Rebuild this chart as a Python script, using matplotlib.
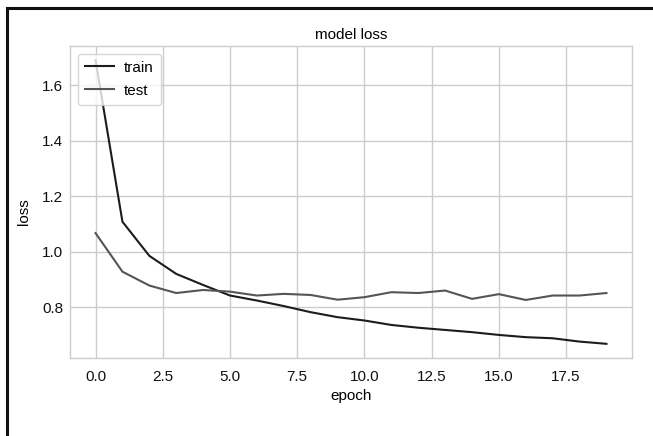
import matplotlib
matplotlib.use('Agg')
import matplotlib.pyplot as plt
from matplotlib.patches import Rectangle

# loss history
epochs = list(range(20))
train_loss = [1.69, 1.108, 0.985, 0.920, 0.880, 0.842, 0.824, 0.804, 0.782, 0.764,
              0.752, 0.736, 0.726, 0.718, 0.710, 0.700, 0.692, 0.688, 0.676, 0.668]
test_loss = [1.067, 0.928, 0.878, 0.851, 0.862, 0.856, 0.842, 0.848, 0.844, 0.827,
             0.836, 0.854, 0.851, 0.860, 0.830, 0.847, 0.826, 0.842, 0.842, 0.851]
legend_labels = ['train', 'test']

plt.rcParams['font.family'] = ['Liberation Sans', 'DejaVu Sans']

fig = plt.figure(figsize=(6.53, 4.36), dpi=100)
ax = fig.add_axes([70 / 653, 1 - 358 / 436, (632 - 70) / 653, (358 - 46) / 436])

ax.plot(epochs, train_loss, color='#1c1c1c', linewidth=1.5)
ax.plot(epochs, test_loss, color='#555555', linewidth=1.5)

ax.set_title('model loss', fontsize=11, pad=5)
ax.set_ylabel('loss', fontsize=11)
ax.yaxis.set_label_coords(-0.069, 0.47)
ax.set_xlabel('epoch', fontsize=11, labelpad=4)

ax.grid(True, color='#cccccc', linewidth=1.0)
ax.set_axisbelow(True)
for spine in ax.spines.values():
    spine.set_color('#cccccc')
    spine.set_linewidth(1.0)
ax.tick_params(length=0, labelsize=11, colors='#111111')
ax.tick_params(axis='x', pad=8.5)
ax.tick_params(axis='y', pad=5)
ax.set_yticks([0.8, 1.0, 1.2, 1.4, 1.6])
ax.set_xticks([0, 2.5, 5, 7.5, 10, 12.5, 15, 17.5])

ax.legend(legend_labels, loc='upper left', fontsize=11, frameon=True,
          framealpha=0.8, edgecolor='#cccccc', handlelength=1.9,
          handletextpad=0.7, borderpad=0.45, labelspacing=0.6)

# scanned frame around the figure (left and top edges visible)
fig.patches.append(Rectangle((6.5 / 653, -0.1), 1.2, 1.1 - 8.5 / 436,
                             transform=fig.transFigure, fill=False,
                             edgecolor='#111111', linewidth=2.2))

fig.savefig('out.png', dpi=100)
